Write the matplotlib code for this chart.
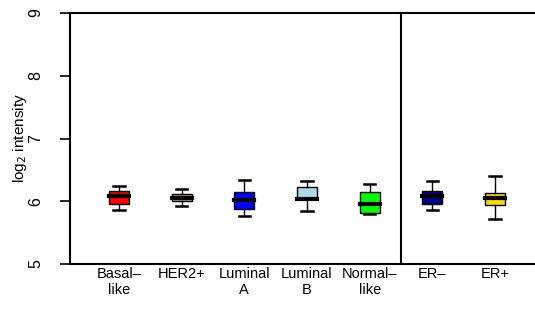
import matplotlib
matplotlib.use('Agg')
import matplotlib.pyplot as plt

plt.rcParams['font.family'] = ['Liberation Sans', 'DejaVu Sans']

labels = ["Basal\u2013\nlike", "HER2+", "Luminal\nA", "Luminal\nB",
          "Normal\u2013\nlike", "ER\u2013", "ER+"]
colors = ["#FF0000", "#C49A9A", "#0000FF", "#ADD8E6", "#00FF00",
          "#00008B", "#FFD700"]
whislo = [5.86, 5.92, 5.76, 5.85, 5.79, 5.86, 5.71]
q1 = [5.95, 6.01, 5.88, 6.03, 5.81, 5.95, 5.94]
med = [6.09, 6.05, 6.02, 6.04, 5.95, 6.08, 6.05]
q3 = [6.17, 6.12, 6.15, 6.23, 6.14, 6.17, 6.13]
whishi = [6.25, 6.20, 6.34, 6.32, 6.28, 6.33, 6.40]

stats = []
for i in range(len(labels)):
    stats.append(dict(whislo=whislo[i], q1=q1[i], med=med[i], q3=q3[i],
                      whishi=whishi[i], fliers=[]))

fig = plt.figure(figsize=(5.35, 3.16), dpi=100)
ax = fig.add_axes([70 / 535, 1 - 264 / 316, 1 - 70 / 535, (264 - 13) / 316])

pos = list(range(1, len(labels) + 1))
bp = ax.bxp(stats, positions=pos, widths=0.32, patch_artist=True,
            showfliers=False,
            boxprops=dict(linewidth=1.0, edgecolor='black'),
            medianprops=dict(color='black', linewidth=3.0,
                             solid_capstyle='projecting'),
            whiskerprops=dict(color='black', linewidth=1.0),
            capprops=dict(color='black', linewidth=1.8),
            capwidths=0.18)
for patch, c in zip(bp['boxes'], colors):
    patch.set_facecolor(c)

ax.axvline(5.5, color='black', linewidth=1.5)

ax.set_xlim(0.218, 7.638)
ax.set_ylim(5, 9)
ax.set_yticks([5, 6, 7, 8, 9])
ax.set_yticklabels(['5', '6', '7', '8', '9'], rotation=90, va='center',
                   fontsize=11.5)
ax.set_xticks(pos)
ax.set_xticklabels(labels, fontsize=10.5, linespacing=1.2)
ax.tick_params(axis='x', length=0, pad=2)
ax.tick_params(axis='y', length=7, width=1.2, pad=12)
ax.set_ylabel("log$_2$ intensity", fontsize=11)
ax.yaxis.set_label_coords(-0.088, 0.5)

ax.spines['right'].set_visible(False)
for s in ['left', 'top', 'bottom']:
    ax.spines[s].set_linewidth(1.5)

fig.savefig("out.png", dpi=100)
